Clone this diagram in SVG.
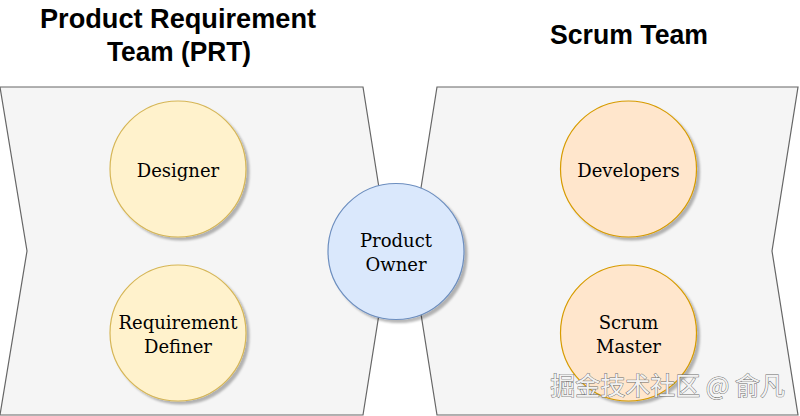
<svg xmlns="http://www.w3.org/2000/svg" width="800" height="416" viewBox="0 0 800 416">
  <defs>
    <filter id="shadow" x="-20%" y="-20%" width="140%" height="140%">
      <feDropShadow dx="3" dy="3" stdDeviation="1.2" flood-color="#000" flood-opacity="0.28"/>
    </filter>
  </defs>
  <style>
    .panel { fill: #f5f5f5; stroke: #666666; stroke-width: 1.2; }
    .yellow { fill: #fff2cc; stroke: #d6b656; stroke-width: 1.2; filter: url(#shadow); }
    .orange { fill: #ffe6cc; stroke: #d79b00; stroke-width: 1.2; filter: url(#shadow); }
    .blue { fill: #dae8fc; stroke: #6c8ebf; stroke-width: 1.2; filter: url(#shadow); }
    .lbl { font-family: "DejaVu Serif", "Liberation Serif", serif; font-size: 18px; fill: #000; text-anchor: middle; }
    .title { font-family: "Liberation Sans", Arial, sans-serif; font-weight: bold; font-size: 28px; fill: #000; text-anchor: middle; }
    .wm { font-family: "Noto Sans CJK SC", "Noto Sans", sans-serif; font-size: 25px; fill: #f2f2f2; stroke: #6a6a6a; stroke-width: 0.9; paint-order: stroke; text-anchor: end; }
  </style>

  <g id="title-prt">
    <text class="title" x="178" y="28" textLength="276" lengthAdjust="spacingAndGlyphs">Product Requirement</text>
    <text class="title" x="179" y="61" textLength="144" lengthAdjust="spacingAndGlyphs">Team (PRT)</text>
  </g>
  <g id="title-scrum">
    <text class="title" x="629" y="44" textLength="158" lengthAdjust="spacingAndGlyphs">Scrum Team</text>
  </g>

  <g id="panel-prt">
    <polygon class="panel" points="0,87 363,87 389,251 363,415 0,415 27,251"/>
  </g>
  <g id="panel-scrum">
    <polygon class="panel" points="437,87 798,87 772,251 798,415 437,415 411,251"/>
  </g>

  <g id="connectors"></g>

  <g id="designer">
    <circle class="yellow" cx="178" cy="169" r="68"/>
    <text class="lbl" x="178" y="177">Designer</text>
  </g>
  <g id="requirement-definer">
    <circle class="yellow" cx="178" cy="333" r="68"/>
    <text class="lbl" x="178" y="329">Requirement</text>
    <text class="lbl" x="178" y="353">Definer</text>
  </g>
  <g id="product-owner">
    <circle class="blue" cx="396" cy="251.5" r="68"/>
    <text class="lbl" x="396" y="247">Product</text>
    <text class="lbl" x="396" y="271">Owner</text>
  </g>
  <g id="developers">
    <circle class="orange" cx="628.5" cy="169" r="68"/>
    <text class="lbl" x="628.5" y="177">Developers</text>
  </g>
  <g id="scrum-master">
    <circle class="orange" cx="628.5" cy="333" r="68"/>
    <text class="lbl" x="628.5" y="329">Scrum</text>
    <text class="lbl" x="628.5" y="353">Master</text>
  </g>

  <g id="watermark">
    <text class="wm" x="785" y="395">掘金技术社区 @ 俞凡</text>
  </g>
</svg>
